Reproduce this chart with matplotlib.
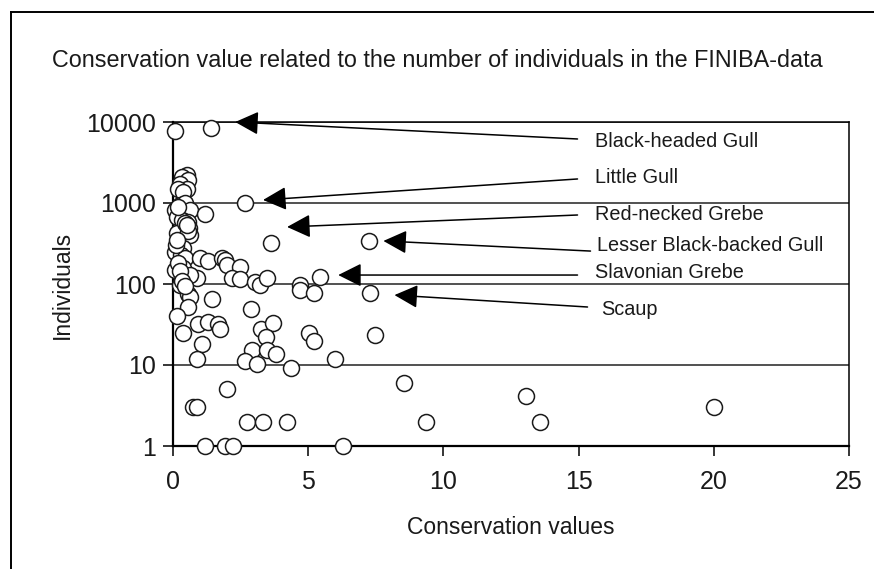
import numpy as np
import matplotlib
matplotlib.use("Agg")
import matplotlib.pyplot as plt
from matplotlib.lines import Line2D
from matplotlib.ticker import FixedLocator, FixedFormatter, NullLocator

plt.rcParams['font.family'] = ['Liberation Sans', 'DejaVu Sans']

# conservation value of each species
cons_values = [
    0.07, 1.41,
    0.51, 0.32, 0.57, 0.26, 0.51, 0.20, 0.38,
    2.67, 0.26, 0.44, 0.63, 1.19, 0.07, 0.14, 0.32, 0.57, 0.60, 0.63, 0.14, 0.57, 0.20,
    3.63, 7.25, 0.07, 0.38, 0.30, 0.44, 1.00, 1.31, 1.80, 1.93, 1.99, 2.48, 0.38, 0.07, 0.20,
    0.88, 0.63, 2.17, 2.48, 3.04, 3.20, 3.49, 4.68, 4.68, 5.20, 5.42, 7.27, 0.26, 0.57,
    1.43, 0.63, 0.57, 0.16, 0.38, 0.94, 1.31, 1.68, 1.74, 1.06, 0.90,
    2.89, 3.25, 3.71, 3.43, 5.04, 5.20, 7.48, 2.91, 3.47, 3.80, 2.67, 3.12, 4.37, 6.00,
    8.53, 1.99, 0.75, 0.90, 2.75, 3.34, 4.23, 9.34, 13.57, 13.04, 20.00,
    1.19, 1.93, 2.23, 6.28,
    0.10, 0.15, 0.45, 0.50, 0.25, 0.35, 0.45,
]
# number of individuals
individuals = [
    7800, 8350,
    2230, 2100, 1900, 1740, 1510, 1510, 1350,
    1000, 950, 1000, 820, 730, 820, 680, 620, 590, 490, 400, 425, 450, 880,
    320, 343, 250, 275, 230, 210, 210, 190, 210, 200, 172, 163, 156, 150, 180,
    118, 128, 118, 115, 107, 98, 118, 98, 85, 78, 123, 78, 98, 76,
    66, 69, 52, 40, 25, 32, 34, 32, 27.5, 18, 12,
    49, 28, 33, 22.4, 25, 20, 23.6, 15.3, 15.5, 13.5, 11.3, 10.2, 9.1, 12,
    6, 5.1, 3.0, 3.0, 2, 2, 2, 2, 2, 4.1, 3.05,
    1, 1, 1, 1,
    300, 350, 560, 540, 145, 110, 95,
]

species = ["Black-headed Gull", "Little Gull", "Red-necked Grebe",
           "Lesser Black-backed Gull", "Slavonian Grebe", "Scaup"]
arrow_tips = [(2.3, 10000), (3.33, 1090), (4.22, 506), (7.78, 340), (6.11, 129), (8.19, 73)]
arrow_tails = [(14.96, 6170), (14.96, 1980), (14.96, 711), (15.44, 255), (14.96, 129), (15.33, 52)]
label_pos = [(15.6, 5670), (15.6, 2040), (15.6, 711), (15.67, 302), (15.6, 137), (15.85, 49)]

fig = plt.figure(figsize=(8.74, 5.69), dpi=100)
ax = fig.add_axes([173/874, 1-446/569, 676/874, 324/569])

ax.set_yscale('log')
ax.set_xlim(0, 25)
ax.set_ylim(1, 10000)

for yv in [10, 100, 1000, 10000]:
    ax.axhline(yv, color='#222222', lw=1.1, zorder=1)

ax.plot(cons_values, individuals, 'o', ms=11.5, mfc='white', mec='#1a1a1a',
        mew=1.1, clip_on=False, zorder=3)

for name, tip, tail, pos in zip(species, arrow_tips, arrow_tails, label_pos):
    ax.annotate('', xy=tip, xytext=tail,
                arrowprops=dict(arrowstyle='-|>,head_length=0.8,head_width=0.4',
                                mutation_scale=18, color='black', lw=1.1,
                                shrinkA=0, shrinkB=0), zorder=4)
    ax.text(pos[0], pos[1], name, ha='left', va='center', fontsize=14.3, color='#1a1a1a')

for side in ['left', 'bottom']:
    ax.spines[side].set_linewidth(1.6)
for side in ['right', 'top']:
    ax.spines[side].set_linewidth(1.1)

ax.yaxis.set_major_locator(FixedLocator([1, 10, 100, 1000, 10000]))
ax.yaxis.set_major_formatter(FixedFormatter(['1', '10', '100', '1000', '10000']))
ax.yaxis.set_minor_locator(NullLocator())
ax.set_xticks([0, 5, 10, 15, 20, 25])
ax.tick_params(axis='both', direction='out', length=7, width=1.1, labelsize=18,
               labelcolor='#1a1a1a')
ax.tick_params(axis='x', pad=10)
ax.tick_params(axis='y', pad=5.5)

fig.text(511/874, 1-528/569, 'Conservation values', ha='center', va='center',
         fontsize=16.5, color='#1a1a1a')
fig.text(62/874, 1-285/569, 'Individuals', ha='center', va='center', rotation=90,
         fontsize=16.5, color='#1a1a1a')

fig.text(437/874, 1-67/569, 'Conservation value related to the number of individuals in the FINIBA-data',
         ha='center', va='baseline', fontsize=16.8, color='#1a1a1a')

# outer frame (cropped on right and bottom)
fig.add_artist(Line2D([11/874, 11/874], [0, 1-12/569], transform=fig.transFigure, color='black', lw=1.4))
fig.add_artist(Line2D([11/874, 1], [1-12/569, 1-12/569], transform=fig.transFigure, color='black', lw=1.4))

fig.savefig('out.png', dpi=100)
